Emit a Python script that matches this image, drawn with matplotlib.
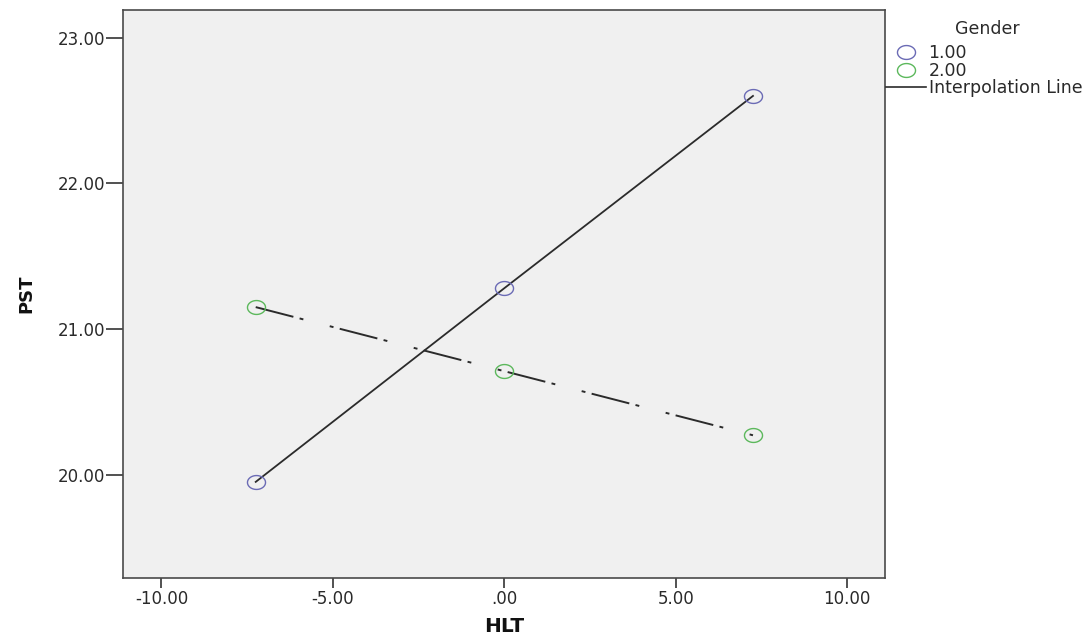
import matplotlib
matplotlib.use("Agg")
import numpy as np
import matplotlib.pyplot as plt
from matplotlib.lines import Line2D
from matplotlib.path import Path

plt.rcParams['font.family'] = ['DejaVu Sans']

hlt = [-7.25, 0.0, 7.25]
pst_g1 = [19.95, 21.28, 22.60]
pst_g2 = [21.15, 20.71, 20.27]
gender_labels = ["1.00", "2.00"]
xticks = [-10, -5, 0, 5, 10]
xticklabels = ["-10.00", "-5.00", ".00", "5.00", "10.00"]
yticks = [20, 21, 22, 23]
yticklabels = ["20.00", "21.00", "22.00", "23.00"]

c1 = "#6b6bb5"
c2 = "#5cb85c"
txt = "#2a2a2a"

# slightly wide ellipse marker (reference image is stretched horizontally)
t = np.linspace(0, 2 * np.pi, 60)
ell = Path(np.column_stack([1.3 * np.cos(t), np.sin(t)]), closed=True)

fig = plt.figure(figsize=(10.86, 6.37), dpi=100)
ax = fig.add_axes([123 / 1086, (637 - 578) / 637, (885 - 123) / 1086, (578 - 10) / 637])
ax.set_facecolor("#f0f0f0")

ax.plot(hlt, pst_g1, color="#2b2b2b", lw=1.3, zorder=2)
ax.plot(hlt, pst_g2, color="#2b2b2b", lw=1.4, dashes=(20, 3.3, 2, 14, 2, 3.3), zorder=2)
ax.plot(hlt, pst_g1, linestyle="none", marker=ell, markersize=13, markerfacecolor="none",
        markeredgecolor=c1, markeredgewidth=1.0, zorder=3)
ax.plot(hlt, pst_g2, linestyle="none", marker=ell, markersize=13, markerfacecolor="none",
        markeredgecolor=c2, markeredgewidth=1.0, zorder=3)

ax.set_xlim(-11.12, 11.1)
ax.set_ylim(19.29, 23.19)
ax.set_xticks(xticks)
ax.set_xticklabels(xticklabels)
ax.set_yticks(yticks)
ax.set_yticklabels(yticklabels)
ax.tick_params(axis="x", direction="out", length=7, width=1.2, colors="#333333",
               labelsize=12, labelcolor=txt, pad=2)
ax.tick_params(axis="y", direction="out", length=12, width=1.2, colors="#333333",
               labelsize=12, labelcolor=txt, pad=1)
for s in ax.spines.values():
    s.set_color("#4a4a4a")
    s.set_linewidth(1.2)

ax.set_xlabel("HLT", fontsize=14.5, fontweight="bold", labelpad=6, color="#111111")
ax.set_ylabel("PST", fontsize=13, fontweight="bold", labelpad=16, color="#111111")

fig.text(987 / 1086, 1 - 29 / 637, "Gender", ha="center", va="center",
         fontsize=12.5, color=txt)

handles = [
    Line2D([], [], marker=ell, linestyle="none", markerfacecolor="none", markeredgecolor=c1, markersize=13),
    Line2D([], [], marker=ell, linestyle="none", markerfacecolor="none", markeredgecolor=c2, markersize=13),
    Line2D([], [], color="#2b2b2b", lw=1.2),
]
leg = fig.legend(handles, gender_labels + ["Interpolation Line"],
                 loc="upper left", bbox_to_anchor=(886 / 1086, 1 - 44 / 637), frameon=False,
                 fontsize=12.5, handlelength=2.3, handletextpad=0.15,
                 labelspacing=-0.02, borderaxespad=0, borderpad=0)
for tx in leg.get_texts():
    tx.set_color(txt)

fig.savefig("out.png", dpi=100)
